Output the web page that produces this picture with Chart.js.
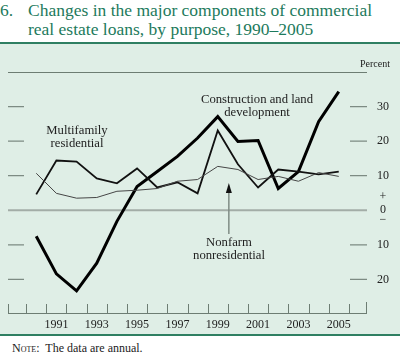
<!DOCTYPE html>
<html>
<head>
<meta charset="utf-8">
<script src="https://cdn.jsdelivr.net/npm/chart.js@4"></script>
<style>
  body { margin: 0; width: 400px; height: 357px; position: relative; background: #fff; overflow: hidden; }
  #title { position: absolute; left: 0; top: 1px; font-family: "Liberation Serif", "Times New Roman", serif; font-size: 17.5px; line-height: 19px; color: #1d7a5c; }
  #title .num { position: absolute; left: 0; }
  #title .txt { margin-left: 28px; }
  #panel { position: absolute; left: 0; top: 42px; width: 400px; height: 294px; background: #dfeee6; border-top: 2px solid #2f7f62; border-bottom: 2px solid #2f7f62; box-sizing: border-box; }
  #note { position: absolute; left: 12px; top: 341px; font-family: "Liberation Serif", "Times New Roman", serif; font-size: 12px; color: #222; }
  #note .sc { font-variant: small-caps; }
  canvas { position: absolute; left: 0; top: 0; }
</style>
</head>
<body>
<div id="title"><span class="num">6.</span><div class="txt">Changes in the major components of commercial<br>real estate loans, by purpose, 1990–2005</div></div>
<div id="panel"></div>
<div id="note"><span class="sc">Note</span>:&nbsp; The data are annual.</div>
<canvas id="chart" width="400" height="357"></canvas>
<script>
// Annual percent changes
const years = [1990, 1991, 1992, 1993, 1994, 1995, 1996, 1997, 1998, 1999, 2000, 2001, 2002, 2003, 2004, 2005];
const construction = [-7.5, -18.4, -23.3, -15.3, -3.2, 6.9, 11.2, 15.6, 20.9, 27.1, 19.9, 20.2, 6.3, 11.2, 25.6, 34.3];
const multifamily = [4.6, 14.4, 14.1, 9.2, 7.8, 12.1, 6.6, 8.1, 4.9, 23.1, 13.3, 6.6, 11.8, 11.2, 10.4, 11.2];
const nonfarm = [10.7, 4.9, 3.5, 3.7, 5.5, 5.8, 6.3, 8.4, 8.9, 12.7, 11.8, 8.9, 9.8, 8.4, 10.9, 9.8];

const xLabelYears = [1991, 1993, 1995, 1997, 1999, 2001, 2003, 2005];
const yTickValues = [30, 20, 10, -10, -20];
const yTickLabels = ["30", "20", "10", "10", "20"];

const serif = '"Liberation Serif", "Times New Roman", serif';

function pts(vals) {
  return vals.map((v, i) => ({ x: years[i], y: v }));
}

// Frame, ticks, labels and annotations
const decor = {
  id: "decor",
  beforeDatasetsDraw(chart) {
    const { ctx, chartArea: a, scales: { x, y } } = chart;
    ctx.save();
    // top frame
    ctx.strokeStyle = "#6d7d73";
    ctx.lineWidth = 1;
    ctx.beginPath();
    ctx.moveTo(a.left, a.top + 0.5);
    ctx.lineTo(a.right, a.top + 0.5);
    ctx.stroke();
    // zero line
    const y0 = y.getPixelForValue(0);
    ctx.strokeStyle = "#a3ada7";
    ctx.lineWidth = 2;
    ctx.beginPath();
    ctx.moveTo(a.left, y0);
    ctx.lineTo(a.right, y0);
    ctx.stroke();
    // y tick dashes
    ctx.strokeStyle = "#7d8b83";
    ctx.lineWidth = 1.2;
    yTickValues.forEach((v) => {
      const py = y.getPixelForValue(v);
      ctx.beginPath();
      ctx.moveTo(a.left, py);
      ctx.lineTo(a.left + 16, py);
      ctx.moveTo(a.right - 17, py);
      ctx.lineTo(a.right, py);
      ctx.stroke();
    });
    // bottom axis
    ctx.strokeStyle = "#6d7d73";
    ctx.lineWidth = 1;
    ctx.beginPath();
    ctx.moveTo(a.left, a.bottom - 0.5);
    ctx.lineTo(a.right, a.bottom - 0.5);
    const marks = years.map((yr) => yr - 0.5).concat([years[years.length - 1] + 0.5]);
    marks.forEach((m) => {
      const px = Math.round(x.getPixelForValue(m)) + 0.5;
      ctx.moveTo(px, a.bottom);
      ctx.lineTo(px, a.bottom - 10);
    });
    ctx.moveTo(a.left + 0.5, a.bottom);
    ctx.lineTo(a.left + 0.5, a.bottom - 10);
    ctx.moveTo(a.right - 0.5, a.bottom);
    ctx.lineTo(a.right - 0.5, a.bottom - 12);
    ctx.stroke();

    // labels
    ctx.fillStyle = "#222";
    ctx.font = "12px " + serif;
    ctx.textAlign = "center";
    ctx.textBaseline = "middle";
    xLabelYears.forEach((yr) => {
      ctx.fillText(String(yr), x.getPixelForValue(yr), a.bottom + 11);
    });
    yTickValues.forEach((v, i) => {
      ctx.fillText(yTickLabels[i], 383, y.getPixelForValue(v));
    });
    ctx.fillText("+", 383, y0 - 13);
    ctx.fillText("0", 383, y0);
    ctx.fillText("\u2212", 383, y0 + 10);
    ctx.font = "10px " + serif;
    ctx.fillText("Percent", 375, a.top - 8);

    // series annotations
    ctx.font = "12.7px " + serif;
    ctx.fillText("Multifamily", 77, 131);
    ctx.fillText("residential", 77, 144);
    ctx.fillText("Construction and land", 257, 100);
    ctx.fillText("development", 257, 113);
    ctx.fillText("Nonfarm", 229, 243);
    ctx.fillText("nonresidential", 229, 256);

    // arrow to nonfarm line
    const ax = x.getPixelForValue(1999.55);
    ctx.strokeStyle = "#7f8c85";
    ctx.lineWidth = 1.5;
    ctx.beginPath();
    ctx.moveTo(ax, 234);
    ctx.lineTo(ax, 190);
    ctx.stroke();
    ctx.fillStyle = "#111";
    ctx.beginPath();
    ctx.moveTo(ax, 183);
    ctx.lineTo(ax - 3, 193);
    ctx.lineTo(ax + 3, 193);
    ctx.closePath();
    ctx.fill();
    ctx.restore();
  }
};

new Chart(document.getElementById("chart"), {
  type: "line",
  data: {
    datasets: [
      { label: "Nonfarm nonresidential", data: pts(nonfarm), borderColor: "#454545", borderWidth: 1, pointRadius: 0, tension: 0 },
      { label: "Multifamily residential", data: pts(multifamily), borderColor: "#111", borderWidth: 1.8, pointRadius: 0, tension: 0 },
      { label: "Construction and land development", data: pts(construction), borderColor: "#000", borderWidth: 3, pointRadius: 0, tension: 0 }
    ]
  },
  options: {
    responsive: false,
    animation: false,
    layout: { padding: { left: 8, right: 33, top: 72, bottom: 43 } },
    plugins: { legend: { display: false }, tooltip: { enabled: false } },
    scales: {
      x: { type: "linear", min: 1988.6, max: 2006.4, display: false },
      y: { min: -30, max: 40, display: false }
    }
  },
  plugins: [decor]
});
</script>
</body>
</html>
